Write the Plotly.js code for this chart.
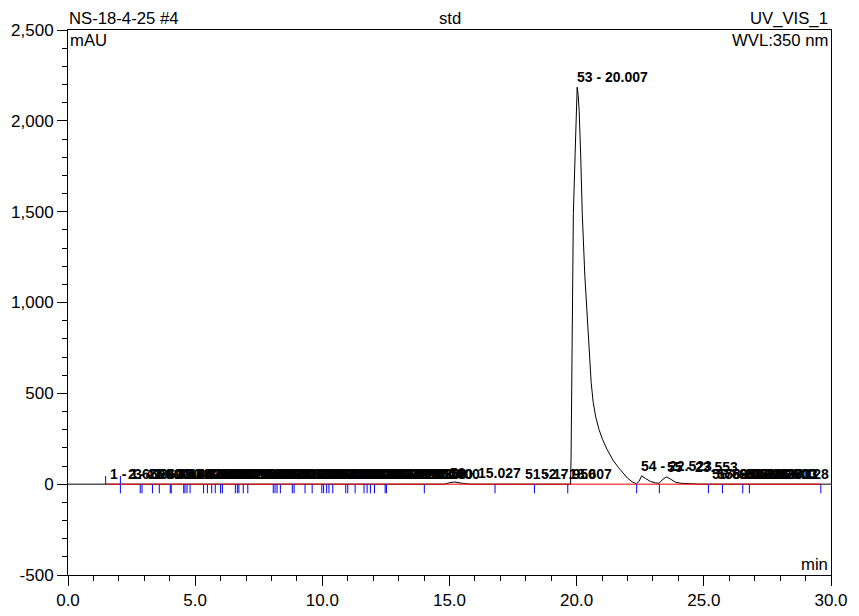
<!DOCTYPE html>
<html>
<head>
<meta charset="utf-8">
<script src="https://cdn.plot.ly/plotly-3.0.1.min.js"></script>
<style>
  html, body { margin: 0; padding: 0; background: #fff; }
  #chart { width: 859px; height: 616px; }
</style>
</head>
<body>
<div id="chart"></div>
<script>
// ---- chromatogram trace (min, mAU) ----
const time = [0, 1.48, 14.80, 15.00, 15.20, 15.50, 15.80, 19.74, 19.76, 19.78, 19.82, 19.87, 19.94, 19.99, 20.02, 20.06, 20.10, 20.16, 20.22, 20.32, 20.42, 20.50, 20.57, 20.65, 20.75, 20.88, 21.02, 21.20, 21.43, 21.65, 21.83, 22.00, 22.18, 22.35, 22.45, 22.557, 22.70, 22.90, 23.10, 23.24, 23.40, 23.54, 23.70, 23.90, 24.10, 24.77, 24.80, 30];
const absorbance = [0, 0, 0, 8, 12, 5, 0, 0, 0, 150, 850, 1490, 1820, 2080, 2185, 2140, 2050, 1800, 1490, 1150, 904, 700, 560, 450, 370, 300, 245, 190, 132, 90, 61, 33, 13, 2, 15, 46, 32, 15, 7, 5, 28, 40, 27, 10, 5, 4, 0, 0];

// ---- integrated peaks ----
const peakNumbers = [];
for (let i = 1; i <= 63; i++) peakNumbers.push(i);
const peakTimes = [1.650, 2.360, 2.600, 3.050, 3.450, 3.800, 4.300, 4.570, 4.640, 4.740,
  5.050, 5.400, 5.560, 5.720, 5.900, 6.030, 6.300, 6.620, 6.690, 6.800,
  6.980, 7.300, 7.600, 7.850, 8.100, 8.180, 8.280, 8.550, 8.850, 9.100,
  9.450, 9.780, 10.010, 10.110, 10.210, 10.330, 10.650, 10.960, 11.150, 11.450,
  11.700, 11.820, 11.970, 12.200, 12.450, 12.620, 12.900, 13.150, 13.400, 15.027,
  17.950, 18.607, 20.007, 22.523, 23.553, 25.310, 25.520, 25.850, 26.120, 26.380,
  26.600, 26.713, 27.128];

// ---- peak boundary markers (min) ----
const boundaryTimes = [1.48, 2.06, 2.84, 2.91, 3.32, 3.59, 4.02, 4.06, 4.55, 4.60, 4.68, 4.80,
  5.33, 5.48, 5.65, 5.79, 6.00, 6.07, 6.58, 6.66, 6.72, 6.89, 7.07, 8.07, 8.14, 8.22, 8.35,
  8.82, 8.89, 9.32, 9.60, 9.98, 10.05, 10.17, 10.26, 10.41, 10.92, 11.00, 11.29, 11.64, 11.76,
  11.89, 12.05, 12.47, 12.52, 14.01, 16.79, 18.34, 19.65, 22.36, 23.25, 25.18, 25.73, 26.53,
  26.79, 29.60];
const peakStartTimes = [1.48, 2.06];
const baselineRange = [1.48, 29.60];

// ---- axes ----
const xTickValues = [0, 5, 10, 15, 20, 25, 30];
const xTickLabels = ['0.0', '5.0', '10.0', '15.0', '20.0', '25.0', '30.0'];
const yTickValues = [-500, 0, 500, 1000, 1500, 2000, 2500];
const yTickLabels = ['-500', '0', '500', '1,000', '1,500', '2,000', '2,500'];

// ---- header texts ----
const sampleName = 'NS-18-4-25 #4';
const injectionType = 'std';
const channelName = 'UV_VIS_1';
const yUnit = 'mAU';
const wavelength = 'WVL:350 nm';
const xUnit = 'min';

// ---- build ----
const FONT = 'Liberation Sans, Arial, sans-serif';
const downLen = 50, upLen = 45;

const downX = [], downY = [];
boundaryTimes.forEach(t => {
  if (t === peakStartTimes[0]) return;
  downX.push(t, t, null); downY.push(0, -downLen, null);
});
const upX = [], upY = [];
peakStartTimes.forEach(t => { upX.push(t, t, null); upY.push(0, upLen, null); });

function localMax(t0) {
  let m = 0;
  for (let i = 0; i < time.length; i++) {
    if (Math.abs(time[i] - t0) <= 0.06) m = Math.max(m, absorbance[i]);
  }
  for (let i = 0; i < time.length - 1; i++) {
    if (time[i] <= t0 && time[i + 1] >= t0) {
      const f = (t0 - time[i]) / (time[i + 1] - time[i]);
      m = Math.max(m, absorbance[i] + f * (absorbance[i + 1] - absorbance[i]));
    }
  }
  return m;
}

const traces = [
  { x: time, y: absorbance, type: 'scatter', mode: 'lines',
    line: { color: '#000000', width: 1 }, hoverinfo: 'skip' },
  { x: baselineRange, y: [0, 0], type: 'scatter', mode: 'lines',
    line: { color: '#ff0000', width: 1 }, hoverinfo: 'skip' },
  { x: downX, y: downY, type: 'scatter', mode: 'lines',
    line: { color: '#0000ff', width: 1 }, hoverinfo: 'skip' },
  { x: upX, y: upY, type: 'scatter', mode: 'lines',
    line: { color: '#0000ff', width: 1 }, hoverinfo: 'skip' }
];

const annotations = [];
peakNumbers.forEach((n, i) => {
  const t = peakTimes[i];
  annotations.push({
    x: t, y: localMax(t), xref: 'x', yref: 'y',
    text: n + ' - ' + t.toFixed(3),
    showarrow: false, xanchor: 'left', yanchor: 'bottom',
    xshift: -1, yshift: 1, borderpad: 0,
    font: { family: FONT, size: 14, color: '#000', weight: 'bold' }
  });
});
const hdr = { family: FONT, size: 16.7, color: '#000' };
annotations.push(
  { text: sampleName, xref: 'paper', yref: 'paper', x: 0, y: 1, xanchor: 'left', yanchor: 'bottom', showarrow: false, font: hdr, borderpad: 0, yshift: 1 },
  { text: injectionType, xref: 'paper', yref: 'paper', x: 0.5, y: 1, xanchor: 'center', yanchor: 'bottom', showarrow: false, font: hdr, borderpad: 0, yshift: 1 },
  { text: channelName, xref: 'paper', yref: 'paper', x: 1, y: 1, xanchor: 'right', yanchor: 'bottom', showarrow: false, font: hdr, borderpad: 0, yshift: 1, xshift: -2 },
  { text: yUnit, xref: 'paper', yref: 'paper', x: 0, y: 1, xanchor: 'left', yanchor: 'top', showarrow: false, font: hdr, borderpad: 0, xshift: 1 },
  { text: wavelength, xref: 'paper', yref: 'paper', x: 1, y: 1, xanchor: 'right', yanchor: 'top', showarrow: false, font: hdr, borderpad: 0, xshift: -2 },
  { text: xUnit, xref: 'paper', yref: 'paper', x: 1, y: 0, xanchor: 'right', yanchor: 'bottom', showarrow: false, font: hdr, borderpad: 0, xshift: -2 }
);

const axisCommon = {
  showline: true, linecolor: '#000', linewidth: 1, mirror: true,
  ticks: 'outside', ticklen: 10, tickwidth: 1, tickcolor: '#000',
  showgrid: false, zeroline: false, tickmode: 'array',
  tickfont: { family: FONT, size: 17, color: '#000' }
};

const layout = {
  width: 859, height: 616,
  margin: { l: 68, r: 28, t: 30, b: 41, pad: 0 },
  paper_bgcolor: '#fff', plot_bgcolor: '#fff',
  showlegend: false,
  xaxis: Object.assign({}, axisCommon, {
    range: [0, 30], tickvals: xTickValues, ticktext: xTickLabels,
    minor: { tickmode: 'linear', tick0: 0, dtick: 1, ticks: 'outside', ticklen: 5, tickcolor: '#000', tickwidth: 1, showgrid: false }
  }),
  yaxis: Object.assign({}, axisCommon, {
    range: [-500, 2500], tickvals: yTickValues, ticktext: yTickLabels,
    minor: { tickmode: 'linear', tick0: 0, dtick: 100, ticks: 'outside', ticklen: 5, tickcolor: '#000', tickwidth: 1, showgrid: false }
  }),
  annotations: annotations
};

Plotly.newPlot('chart', traces, layout, { displayModeBar: false, staticPlot: true });
</script>
</body>
</html>
